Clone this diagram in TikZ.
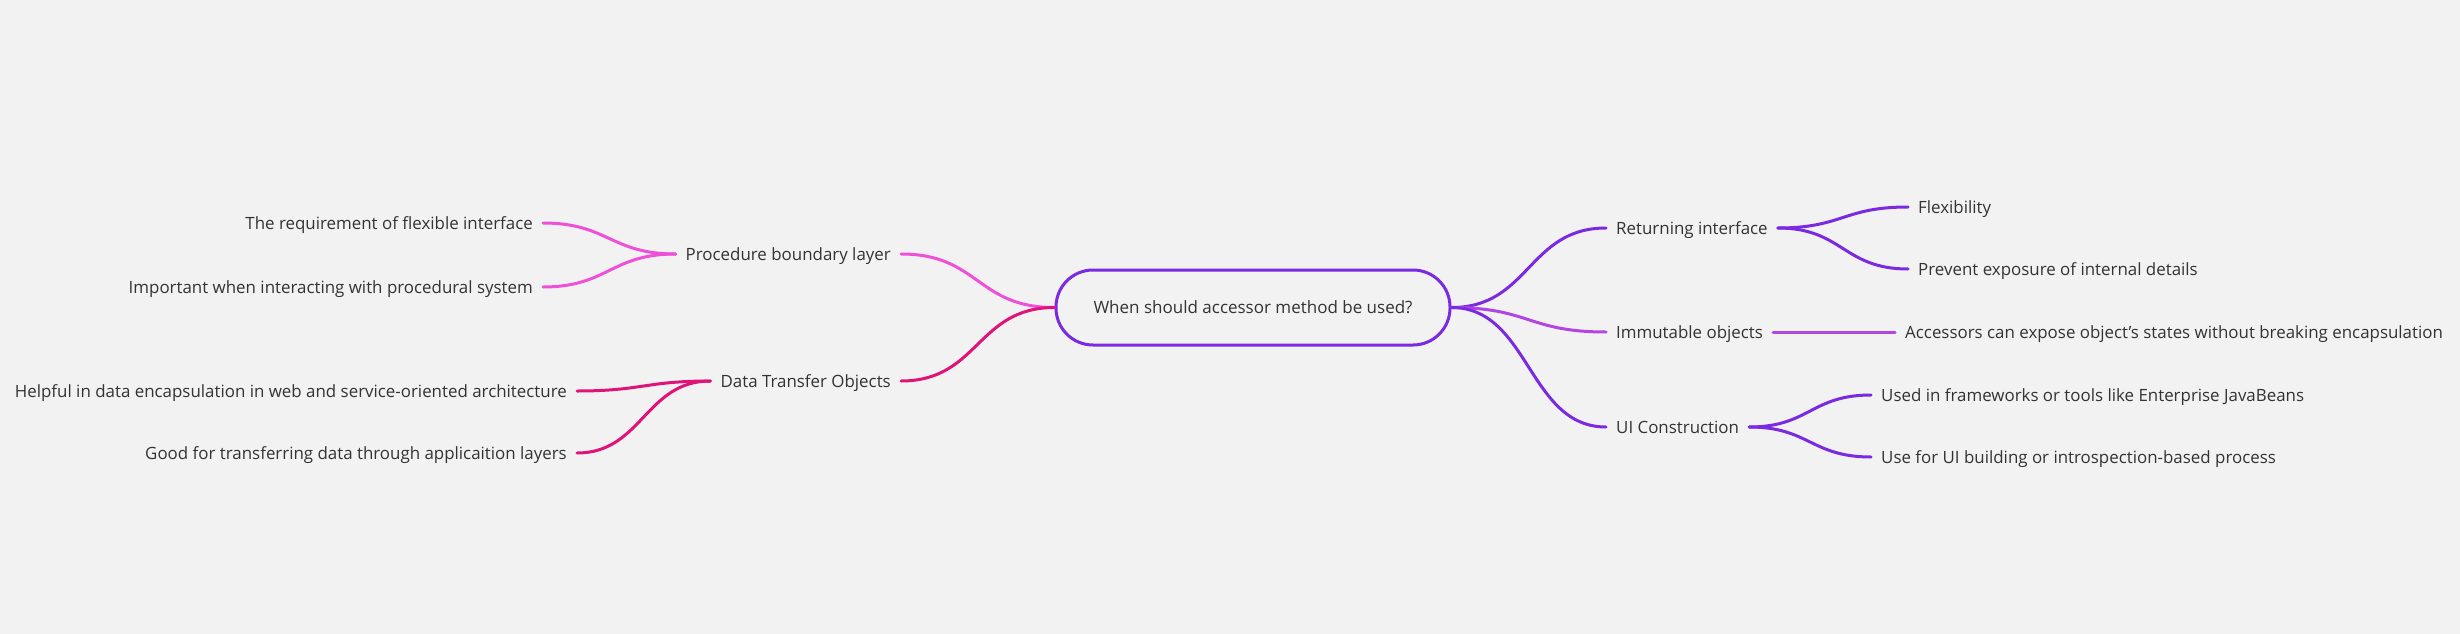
\documentclass[tikz,border=0pt]{standalone}
\usepackage{fontspec}
\setmainfont{Open Sans}
\definecolor{bgc}{RGB}{242,242,242}
\definecolor{txt}{RGB}{51,51,51}
\definecolor{mpurple}{RGB}{122,43,226}
\definecolor{morchid}{RGB}{178,70,226}
\definecolor{mpink}{RGB}{238,80,216}
\definecolor{mcrimson}{RGB}{224,20,120}
\begin{document}
\begin{tikzpicture}[x=1pt,y=-1pt,
  lbl/.style={font=\fontsize{16.9}{20}\selectfont, text=txt, inner xsep=10pt, inner ysep=0pt, text height=13pt, text depth=0pt},
  lw/.style={lbl, anchor=west},
  le/.style={lbl, anchor=east},
  rootbox/.style={draw=mpurple, line width=3pt, rounded corners=37pt, minimum width=394pt, minimum height=75pt, font=\fontsize{17}{21}\selectfont, text=txt},
  conn/.style={line width=3pt, line cap=round}
]
\fill[bgc] (0,0) rectangle (2460,634);
\useasboundingbox (0,0) rectangle (2460,634);

\node[rootbox] (root) at (1253,307.5) {When should accessor method be used?};

\node[lw] (ri) at (1606,228) {Returning interface};
\node[lw] (flex) at (1908,207) {Flexibility};
\node[lw] (prev) at (1908,269) {Prevent exposure of internal details};
\node[lw] (imm) at (1606,332) {Immutable objects};
\node[lw] (acc) at (1895,332) {Accessors can expose object's states without breaking encapsulation};
\node[lw] (ui) at (1606,427) {UI Construction};
\node[lw] (used) at (1871,395) {Used in frameworks or tools like Enterprise JavaBeans};
\node[lw] (usefor) at (1871,457) {Use for UI building or introspection-based process};

\node[le] (pbl) at (901,254) {Procedure boundary layer};
\node[le] (req) at (543,223) {The requirement of flexible interface};
\node[le] (imp) at (543,287) {Important when interacting with procedural system};
\node[le] (dto) at (901,381) {Data Transfer Objects};
\node[le] (help) at (577,391) {Helpful in data encapsulation in web and service-oriented architecture};
\node[le] (good) at (577,453) {Good for transferring data through applicaition layers};

% right side
\draw[conn, mpurple] (root.east) .. controls +(78,0) and +(-78,0) .. (ri.west);
\draw[conn, morchid] (root.east) .. controls +(78,0) and +(-78,0) .. (imm.west);
\draw[conn, mpurple] (root.east) .. controls +(78,0) and +(-78,0) .. (ui.west);
\draw[conn, mpurple] (ri.east) .. controls +(65,0) and +(-65,0) .. (flex.west);
\draw[conn, mpurple] (ri.east) .. controls +(65,0) and +(-65,0) .. (prev.west);
\draw[conn, morchid] (imm.east) -- (acc.west);
\draw[conn, mpurple] (ui.east) .. controls +(60,0) and +(-60,0) .. (used.west);
\draw[conn, mpurple] (ui.east) .. controls +(60,0) and +(-60,0) .. (usefor.west);

% left side
\draw[conn, mpink] (root.west) .. controls +(-78,0) and +(78,0) .. (pbl.east);
\draw[conn, mcrimson] (root.west) .. controls +(-78,0) and +(78,0) .. (dto.east);
\draw[conn, mpink] (pbl.west) .. controls +(-65,0) and +(65,0) .. (req.east);
\draw[conn, mpink] (pbl.west) .. controls +(-65,0) and +(65,0) .. (imp.east);
\draw[conn, mcrimson] (dto.west) .. controls +(-65,0) and +(65,0) .. (help.east);
\draw[conn, mcrimson] (dto.west) .. controls +(-65,0) and +(65,0) .. (good.east);
\end{tikzpicture}
\end{document}
